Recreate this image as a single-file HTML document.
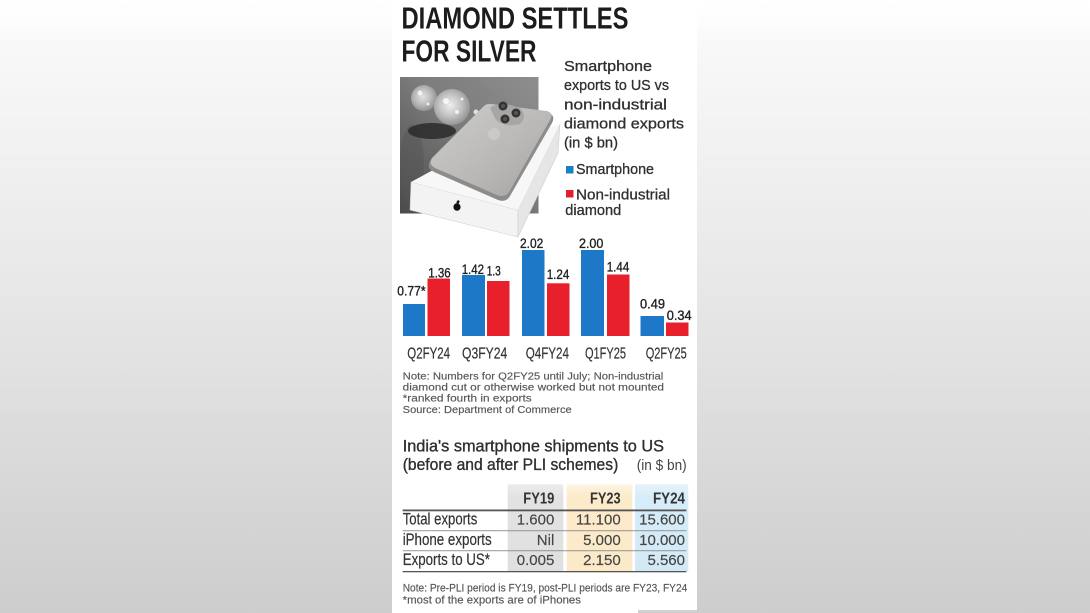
<!DOCTYPE html>
<html>
<head>
<meta charset="utf-8">
<style>
html,body{margin:0;padding:0;width:1090px;height:613px;overflow:hidden;background:#fff;}
svg{display:block;}
.c{font-family:"Liberation Sans Narrow","Liberation Sans",sans-serif;}
.r{font-family:"Liberation Sans",sans-serif;}
</style>
</head>
<body>
<svg width="1090" height="613" viewBox="0 0 1090 613" xmlns="http://www.w3.org/2000/svg">
<defs>
<linearGradient id="bg" x1="0" y1="0" x2="0" y2="1">
<stop offset="0" stop-color="#ffffff"/>
<stop offset="0.035" stop-color="#fdfdfd"/>
<stop offset="0.06" stop-color="#f9f9f9"/>
<stop offset="0.5" stop-color="#e6e6e6"/>
<stop offset="1" stop-color="#cdcdcd"/>
</linearGradient>
<linearGradient id="photo" x1="1" y1="0" x2="0" y2="1">
<stop offset="0" stop-color="#8e8e8e"/>
<stop offset="0.45" stop-color="#7c7c7c"/>
<stop offset="1" stop-color="#4a4a4a"/>
</linearGradient>
<linearGradient id="phone" x1="0" y1="0" x2="1" y2="1">
<stop offset="0" stop-color="#cfcecc"/>
<stop offset="0.6" stop-color="#b8b7b5"/>
<stop offset="1" stop-color="#a3a2a0"/>
</linearGradient>
<radialGradient id="dia" cx="0.45" cy="0.45" r="0.6">
<stop offset="0" stop-color="#eeeeee"/>
<stop offset="0.5" stop-color="#c4c4c4"/>
<stop offset="1" stop-color="#8e8e8e"/>
</radialGradient>
<linearGradient id="c19" x1="0" y1="0" x2="0" y2="1">
<stop offset="0" stop-color="#ececec"/>
<stop offset="0.15" stop-color="#e2e2e2"/>
<stop offset="1" stop-color="#e0e0e0"/>
</linearGradient>
<linearGradient id="c23" x1="0" y1="0" x2="0" y2="1">
<stop offset="0" stop-color="#fdf3e0"/>
<stop offset="0.15" stop-color="#fcebcb"/>
<stop offset="1" stop-color="#fbe9c8"/>
</linearGradient>
<linearGradient id="c24" x1="0" y1="0" x2="0" y2="1">
<stop offset="0" stop-color="#e6f3fa"/>
<stop offset="0.15" stop-color="#d6ecf8"/>
<stop offset="1" stop-color="#d3eaf6"/>
</linearGradient>
<clipPath id="pc"><rect x="400" y="77" width="138.5" height="136.5"/></clipPath>
</defs>

<!-- background -->
<rect x="0" y="0" width="1090" height="613" fill="url(#bg)"/>
<!-- panel -->
<rect x="392" y="0" width="305" height="613" fill="#ffffff"/>
<rect x="638" y="610" width="59" height="3" fill="#d0d0d0"/>

<!-- Title -->
<text class="c" x="401.5" y="28.5" font-size="31" font-weight="bold" fill="#1c1c1c" textLength="227" lengthAdjust="spacingAndGlyphs">DIAMOND SETTLES</text>
<text class="c" x="401.5" y="61.5" font-size="31" font-weight="bold" fill="#1c1c1c" textLength="135" lengthAdjust="spacingAndGlyphs">FOR SILVER</text>

<!-- Photo -->
<g clip-path="url(#pc)">
<rect x="400" y="77" width="138.5" height="136.5" fill="url(#photo)"/>
<ellipse cx="412" cy="165" rx="12" ry="40" fill="#555" opacity="0.5"/>
<ellipse cx="432" cy="131" rx="24" ry="8" fill="#2a2a2a" opacity="0.85"/>
<circle cx="424" cy="98" r="13" fill="url(#dia)" opacity="0.9"/>
<circle cx="452" cy="107" r="18" fill="url(#dia)"/>
<g fill="#ffffff" opacity="0.75">
<circle cx="446" cy="101" r="3"/>
<circle cx="457" cy="112" r="2"/>
<circle cx="420" cy="93" r="2.5"/>
<circle cx="428" cy="104" r="1.5"/>
<circle cx="462" cy="99" r="1.5"/>
<circle cx="476" cy="112" r="2.5"/>
</g>
</g>
<!-- box -->
<polygon points="411,182 518,210 518,237 410,210" fill="#f3f3f3" stroke="#cfcfcf" stroke-width="0.6"/>
<polygon points="518,210 560,124 558,153 518,237" fill="#e6e6e6" stroke="#cfcfcf" stroke-width="0.6"/>
<polygon points="411,182 470,150 560,124 518,210" fill="#f7f7f7"/>
<!-- phone -->
<path d="M492,106 L548,113 Q556,115 552,123 L510,196 Q506,203 498,200 L434,172 Q426,168 430,161 L482,110 Q486,105 492,106 Z" fill="#8d8c8a"/>
<path d="M491,104 L547,111 Q554,113 550,120 L509,192 Q505,198 497,195 L435,168 Q428,164 432,158 L482,108 Q486,103 491,104 Z" fill="url(#phone)"/>
<circle cx="494" cy="134" r="6" fill="#cfcecc" opacity="0.7"/>
<path d="M490,108 Q500,100 520,108 Q528,116 520,124 Q505,128 496,120 Z" fill="#a7a6a4"/>
<circle cx="503" cy="106" r="4.5" fill="#333"/>
<circle cx="516" cy="113" r="4.5" fill="#333"/>
<circle cx="505" cy="119" r="4.5" fill="#333"/>
<circle cx="503" cy="106" r="2" fill="#555"/>
<circle cx="516" cy="113" r="2" fill="#555"/>
<circle cx="505" cy="119" r="2" fill="#555"/>
<!-- apple logo -->
<ellipse cx="457" cy="207" rx="3.6" ry="3.8" fill="#111"/>
<ellipse cx="458" cy="202" rx="1.3" ry="1.8" fill="#111" transform="rotate(30 458 202)"/>

<!-- Subtitle -->
<g class="c" font-size="15" fill="#2f2f2f" stroke="#2f2f2f" stroke-width="0.3">
<text x="564" y="71" textLength="88" lengthAdjust="spacingAndGlyphs">Smartphone</text>
<text x="564" y="90" textLength="105" lengthAdjust="spacingAndGlyphs">exports to US vs</text>
<text x="564" y="109.3" textLength="103" lengthAdjust="spacingAndGlyphs">non-industrial</text>
<text x="564" y="128.5" textLength="120" lengthAdjust="spacingAndGlyphs">diamond exports</text>
<text x="564" y="147.5" textLength="54" lengthAdjust="spacingAndGlyphs">(in $ bn)</text>
</g>
<!-- Legend -->
<rect x="566" y="166" width="7.5" height="7.5" fill="#1a80c4"/>
<rect x="566" y="190" width="7.5" height="7.5" fill="#e2202c"/>
<g class="c" font-size="15" fill="#2f2f2f" stroke="#2f2f2f" stroke-width="0.3">
<text x="576" y="174" textLength="78" lengthAdjust="spacingAndGlyphs">Smartphone</text>
<text x="576" y="199.3" textLength="94" lengthAdjust="spacingAndGlyphs">Non-industrial</text>
<text x="565.3" y="215" textLength="56" lengthAdjust="spacingAndGlyphs">diamond</text>
</g>

<!-- Bars -->
<g fill="#1e78c8">
<rect x="403" y="304" width="22" height="32"/>
<rect x="462" y="275" width="23" height="61"/>
<rect x="522" y="250" width="22.5" height="86"/>
<rect x="581" y="250" width="23" height="86"/>
<rect x="640.5" y="316" width="23.5" height="20"/>
</g>
<g fill="#e8202c">
<rect x="427.5" y="278.5" width="22.5" height="57.5"/>
<rect x="487" y="281" width="22.5" height="55"/>
<rect x="547" y="283.3" width="22.5" height="52.7"/>
<rect x="607" y="274.5" width="22.5" height="61.5"/>
<rect x="666" y="322.5" width="22.5" height="13.5"/>
</g>
<!-- Bar labels -->
<g class="c" font-size="13.5" fill="#222" stroke="#222" stroke-width="0.35">
<text x="397.3" y="295.5" textLength="28.3" lengthAdjust="spacingAndGlyphs">0.77*</text>
<text x="428.3" y="277.7" textLength="22.4" lengthAdjust="spacingAndGlyphs">1.36</text>
<text x="461.7" y="274" textLength="22.3" lengthAdjust="spacingAndGlyphs">1.42</text>
<text x="486.7" y="275.3" textLength="14" lengthAdjust="spacingAndGlyphs">1.3</text>
<text x="520" y="247.8" textLength="23.3" lengthAdjust="spacingAndGlyphs">2.02</text>
<text x="546.7" y="279" textLength="22.6" lengthAdjust="spacingAndGlyphs">1.24</text>
<text x="579" y="247.8" textLength="24.3" lengthAdjust="spacingAndGlyphs">2.00</text>
<text x="606.7" y="271.5" textLength="22.6" lengthAdjust="spacingAndGlyphs">1.44</text>
<text x="640" y="308.3" textLength="25" lengthAdjust="spacingAndGlyphs">0.49</text>
<text x="666.7" y="320" textLength="25" lengthAdjust="spacingAndGlyphs">0.34</text>
</g>
<!-- Category labels -->
<g class="c" font-size="16" fill="#333" stroke="#333" stroke-width="0.2">
<text x="407.3" y="358.3" textLength="42.7" lengthAdjust="spacingAndGlyphs">Q2FY24</text>
<text x="462" y="358.3" textLength="45.3" lengthAdjust="spacingAndGlyphs">Q3FY24</text>
<text x="525.7" y="358.3" textLength="43.3" lengthAdjust="spacingAndGlyphs">Q4FY24</text>
<text x="585" y="358.3" textLength="41" lengthAdjust="spacingAndGlyphs">Q1FY25</text>
<text x="645.7" y="358.3" textLength="41" lengthAdjust="spacingAndGlyphs">Q2FY25</text>
</g>
<!-- Notes -->
<g class="c" font-size="10.5" fill="#555" stroke="#555" stroke-width="0.15">
<text x="402.7" y="379.3" textLength="260.6" lengthAdjust="spacingAndGlyphs">Note: Numbers for Q2FY25 until July; Non-industrial</text>
<text x="402.7" y="390.5" textLength="261.3" lengthAdjust="spacingAndGlyphs">diamond cut or otherwise worked but not mounted</text>
<text x="402.7" y="401.7" textLength="129" lengthAdjust="spacingAndGlyphs">*ranked fourth in exports</text>
<text x="402.7" y="412.8" textLength="169" lengthAdjust="spacingAndGlyphs">Source: Department of Commerce</text>
</g>

<!-- Table title -->
<g class="c" fill="#2f2f2f" stroke="#2f2f2f" stroke-width="0.35">
<text x="402.7" y="451.7" font-size="16.5" textLength="261.3" lengthAdjust="spacingAndGlyphs">India's smartphone shipments to US</text>
<text x="402.7" y="470" font-size="16.5" textLength="215.6" lengthAdjust="spacingAndGlyphs">(before and after PLI schemes)</text>
</g>
<text class="c" x="636.7" y="470" font-size="15" fill="#444" textLength="50" lengthAdjust="spacingAndGlyphs">(in $ bn)</text>

<!-- Table columns -->
<rect x="507.7" y="484.3" width="55.6" height="87.4" fill="url(#c19)"/>
<rect x="566.7" y="484.3" width="65.6" height="87.4" fill="url(#c23)"/>
<rect x="635" y="484.3" width="53.3" height="87.4" fill="url(#c24)"/>

<!-- Table lines -->
<rect x="402.7" y="509.5" width="283.6" height="1.8" fill="#555"/>
<rect x="402.7" y="530.3" width="283.6" height="0.9" fill="#8a8a8a"/>
<rect x="402.7" y="550.3" width="283.6" height="0.9" fill="#8a8a8a"/>
<rect x="402.7" y="571" width="283.6" height="1.3" fill="#555"/>

<!-- Header -->
<g class="c" font-size="15.5" font-weight="bold" fill="#333">
<text x="554.3" y="503.3" text-anchor="end" textLength="31" lengthAdjust="spacingAndGlyphs">FY19</text>
<text x="620.7" y="503.3" text-anchor="end" textLength="30.7" lengthAdjust="spacingAndGlyphs">FY23</text>
<text x="685" y="503.3" text-anchor="end" textLength="32" lengthAdjust="spacingAndGlyphs">FY24</text>
</g>
<!-- Row labels -->
<g class="c" font-size="16.5" fill="#333" stroke="#333" stroke-width="0.2">
<text x="402.7" y="524.3" textLength="74.6" lengthAdjust="spacingAndGlyphs">Total exports</text>
<text x="402.7" y="545" textLength="89" lengthAdjust="spacingAndGlyphs">iPhone exports</text>
<text x="402.7" y="565" textLength="87.3" lengthAdjust="spacingAndGlyphs">Exports to US*</text>
</g>
<!-- Values -->
<g class="r" font-size="15" fill="#444" stroke="#444" stroke-width="0.15" text-anchor="end">
<text x="554.3" y="524.3">1.600</text>
<text x="620.7" y="524.3">11.100</text>
<text x="685" y="524.3">15.600</text>
<text x="554.3" y="545" class="c">Nil</text>
<text x="620.7" y="545">5.000</text>
<text x="685" y="545">10.000</text>
<text x="554.3" y="565">0.005</text>
<text x="620.7" y="565">2.150</text>
<text x="685" y="565">5.560</text>
</g>

<!-- Bottom notes -->
<g class="c" font-size="11" fill="#555" stroke="#555" stroke-width="0.15">
<text x="402.7" y="591.7" textLength="284.6" lengthAdjust="spacingAndGlyphs">Note: Pre-PLI period is FY19, post-PLI periods are FY23, FY24</text>
<text x="402.7" y="603.3" textLength="178.3" lengthAdjust="spacingAndGlyphs">*most of the exports are of iPhones</text>
</g>
</svg>
</body>
</html>
